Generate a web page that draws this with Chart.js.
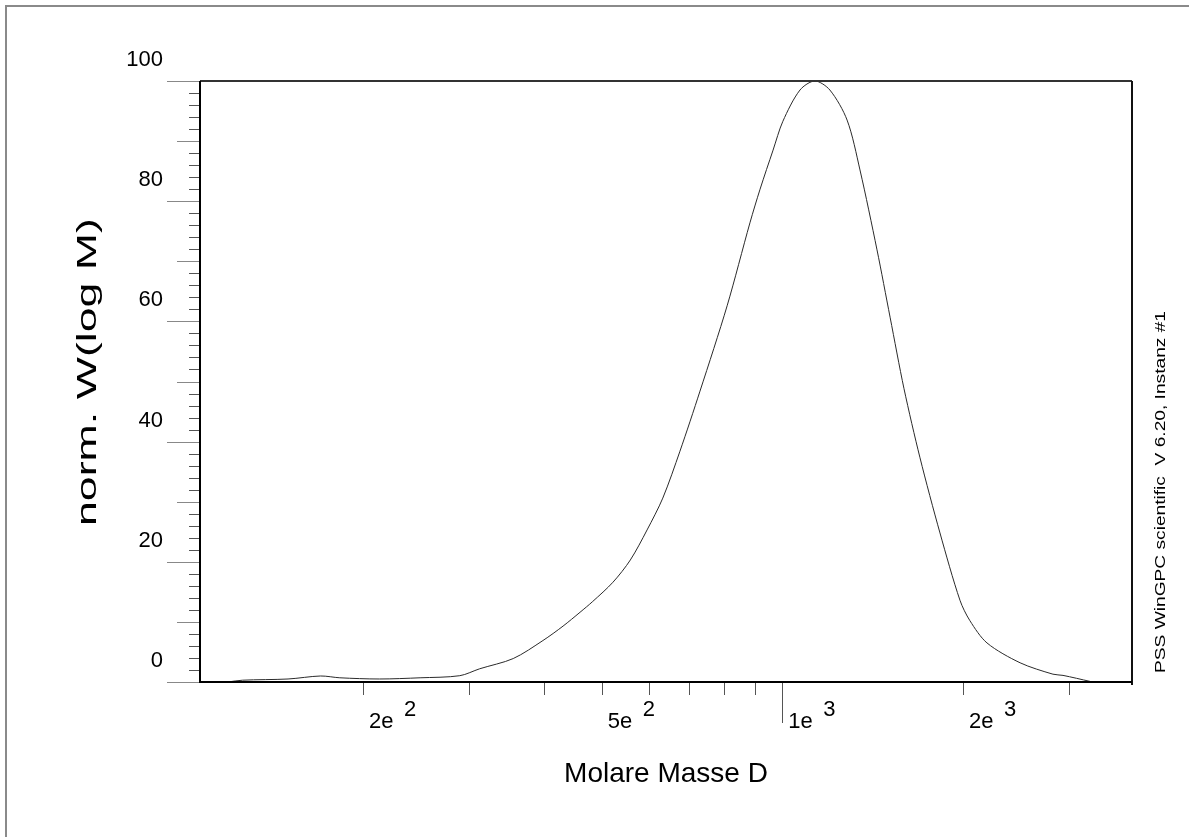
<!DOCTYPE html>
<html>
<head>
<meta charset="utf-8">
<script src="https://cdn.jsdelivr.net/npm/chart.js@4/dist/chart.umd.min.js"></script>
<style>
  html, body { margin: 0; padding: 0; background: #fff; }
  #wrap { position: relative; width: 1189px; height: 837px; }
</style>
</head>
<body>
<div id="wrap"><canvas id="gpcChart"></canvas></div>
<script>
// molar mass (D) and normalised W(log M)
const molarMass = [119, 126, 150, 170, 183, 213, 249, 290, 313, 356, 399, 431, 460, 483, 522, 558, 595, 632, 675, 729, 809, 883, 918, 965, 1002, 1070, 1133, 1200, 1282, 1347, 1438, 1512, 1595, 1696, 1831, 1977, 2054, 2193, 2490, 2825, 2936, 3257];
const wLogM = [0, 0.3, 0.5, 1.0, 0.7, 0.5, 0.7, 1.05, 2.2, 3.9, 6.9, 9.3, 11.6, 13.4, 16.6, 20.3, 25.3, 30.6, 38.4, 48.4, 62.6, 76.4, 82.0, 88.5, 93.3, 98.5, 100, 98.5, 93.5, 85.2, 71.9, 60.7, 48.8, 37.3, 24.8, 13.6, 10.2, 6.5, 3.2, 1.3, 1.1, 0.1];

// x axis ticks (log) and which of them get a label
const xTicks = [200, 300, 400, 500, 600, 700, 800, 900, 1000, 2000, 3000];
const xLabelValues = [200, 500, 1000, 2000];
const xLabelMant = ["2e", "5e", "1e", "2e"];
const xLabelExp = ["2", "2", "3", "3"];

// y axis labels
const yLabelValues = [0, 20, 40, 60, 80, 100];

const FONT = "'Liberation Sans', Arial, sans-serif";

// draws frame, tick marks and all axis text
const axisDecor = {
    id: "axisDecor",
    afterDraw(chart) {
        const ctx = chart.ctx;
        const a = chart.chartArea;
        const xs = chart.scales.x;
        const ys = chart.scales.y;
        ctx.save();

        // outer gray frame (left + top)
        ctx.strokeStyle = "#8a8a8a";
        ctx.lineWidth = 2;
        ctx.beginPath();
        ctx.moveTo(6, 837);
        ctx.lineTo(6, 6);
        ctx.lineTo(1189, 6);
        ctx.stroke();

        // y tick marks, every 2 units
        for (let v = 0; v <= 100; v += 2) {
            const py = Math.round(ys.getPixelForValue(v)) + 0.5;
            let len = 11;
            ctx.strokeStyle = "#555";
            if (v % 20 === 0) { len = 33; ctx.strokeStyle = "#888"; }
            else if (v % 10 === 0) { len = 23; ctx.strokeStyle = "#888"; }
            ctx.lineWidth = 1;
            ctx.beginPath();
            ctx.moveTo(a.left - len, py);
            ctx.lineTo(a.left, py);
            ctx.stroke();
        }

        // x tick marks below axis
        xTicks.forEach(v => {
            const px = Math.round(xs.getPixelForValue(v)) + 0.5;
            const len = v === 1000 ? 41 : 13;
            ctx.strokeStyle = "#555";
            ctx.lineWidth = 1;
            ctx.beginPath();
            ctx.moveTo(px, a.bottom);
            ctx.lineTo(px, a.bottom + len);
            ctx.stroke();
        });

        // plot frame
        ctx.lineWidth = 2;
        ctx.strokeStyle = "#333";
        ctx.beginPath();
        ctx.moveTo(a.left, a.top);
        ctx.lineTo(a.right, a.top);
        ctx.stroke();
        ctx.strokeStyle = "#111";
        ctx.beginPath();
        ctx.moveTo(a.right, a.top);
        ctx.lineTo(a.right, a.bottom + 3);
        ctx.stroke();
        ctx.strokeStyle = "#000";
        ctx.beginPath();
        ctx.moveTo(a.left, a.top);
        ctx.lineTo(a.left, a.bottom);
        ctx.lineTo(a.right, a.bottom);
        ctx.stroke();

        // y labels (drawn above their ticks, like the original)
        ctx.fillStyle = "#000";
        ctx.font = "22px " + FONT;
        ctx.textAlign = "right";
        ctx.textBaseline = "alphabetic";
        yLabelValues.forEach(v => {
            ctx.fillText(String(v), 163, ys.getPixelForValue(v) - 15);
        });

        // x labels with raised exponent
        ctx.textAlign = "left";
        xLabelValues.forEach((v, i) => {
            const px = xs.getPixelForValue(v);
            ctx.fillText(xLabelMant[i], px + 6, 728);
            ctx.fillText(xLabelExp[i], px + 41, 716);
        });

        // x title
        ctx.font = "28px " + FONT;
        ctx.textAlign = "center";
        ctx.fillText("Molare Masse D", (a.left + a.right) / 2, 782);

        // y title, rotated and stretched
        drawStretched(ctx, "norm. W(log M)", 96, 372, "27px " + FONT, 308);

        // vendor text on the right
        drawStretched(ctx, "PSS WinGPC scientific  V 6.20, Instanz #1", 1165, 492, "15px " + FONT, 362);

        ctx.restore();
    }
};

function drawStretched(ctx, text, x, y, font, targetLen) {
    ctx.save();
    ctx.font = font;
    const w = ctx.measureText(text).width;
    ctx.translate(x, y);
    ctx.rotate(-Math.PI / 2);
    ctx.scale(targetLen / w, 1);
    ctx.textAlign = "center";
    ctx.textBaseline = "alphabetic";
    ctx.fillStyle = "#000";
    ctx.fillText(text, 0, 0);
    ctx.restore();
}

const ctx = document.getElementById("gpcChart").getContext("2d");
new Chart(ctx, {
    type: "line",
    data: {
        datasets: [{
            data: molarMass.map((m, i) => ({ x: m, y: wLogM[i] })),
            borderColor: "#2a2a2a",
            borderWidth: 1,
            pointRadius: 0,
            fill: false,
            tension: 0.3
        }]
    },
    options: {
        responsive: true,
        maintainAspectRatio: false,
        animation: false,
        layout: { padding: { left: 200, top: 81, right: 57, bottom: 155 } },
        plugins: { legend: { display: false }, tooltip: { enabled: false } },
        scales: {
            x: {
                type: "logarithmic",
                min: 107,
                max: 3826,
                grid: { display: false, drawTicks: false },
                border: { display: false },
                ticks: { display: false }
            },
            y: {
                min: 0,
                max: 100,
                grid: { display: false, drawTicks: false },
                border: { display: false },
                ticks: { display: false }
            }
        }
    },
    plugins: [axisDecor]
});
</script>
</body>
</html>
